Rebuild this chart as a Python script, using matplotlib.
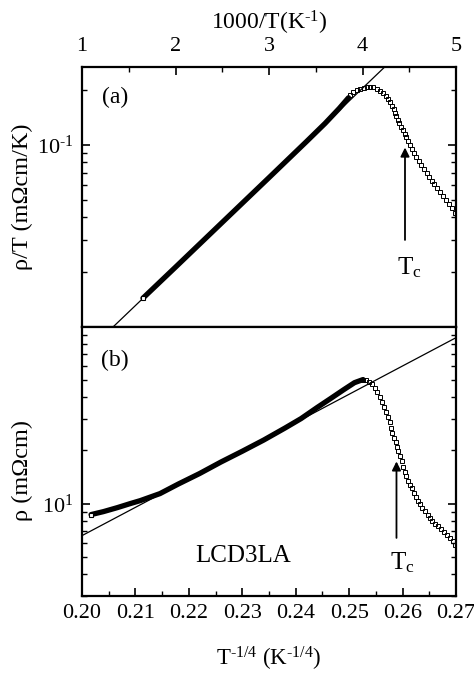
import matplotlib
matplotlib.use("Agg")
import matplotlib.pyplot as plt
from matplotlib.ticker import FixedLocator, LogLocator, MultipleLocator, NullFormatter, FixedFormatter

plt.rcParams['font.family'] = ['Liberation Serif', 'DejaVu Serif']
plt.rcParams['mathtext.fontset'] = 'custom'
plt.rcParams['mathtext.rm'] = 'Liberation Serif'
plt.rcParams['mathtext.it'] = 'Liberation Serif:italic'

HY = '\u2010'  # short hyphen for the exponents, as in the original

# panel (a): rho/T against 1000/T (top axis)
a_dense_u = [1.652, 2.0, 2.5, 3.0, 3.4, 3.6, 3.75, 3.85]
a_dense_v = [0.0144, 0.0213, 0.0375, 0.0660, 0.104, 0.131, 0.158, 0.181]
a_pts_u = [3.8663, 3.9037, 3.9412, 3.9786, 4.0107, 4.0428, 4.0802, 4.1176, 4.1551, 4.1872,
           4.2193, 4.2460, 4.2727, 4.2941, 4.3155, 4.3316, 4.3476, 4.3636, 4.3797, 4.3957,
           4.4118, 4.4332, 4.4492, 4.4652, 4.4866, 4.5080, 4.5294, 4.5508, 4.5775, 4.6043,
           4.6310, 4.6578, 4.6845, 4.7112, 4.7380, 4.7647, 4.7968, 4.8289, 4.8610, 4.8930,
           4.9251, 4.9572, 4.9893]
a_pts_v = [0.1880, 0.1941, 0.1991, 0.2029, 0.2055, 0.2073, 0.2081, 0.2067, 0.2029, 0.1978,
           0.1916, 0.1845, 0.1777, 0.1710, 0.1636, 0.1565, 0.1497, 0.1432, 0.1371, 0.1312,
           0.1255, 0.1201, 0.1149, 0.1099, 0.1045, 0.0994, 0.0945, 0.0898, 0.0854, 0.0812,
           0.0772, 0.0734, 0.0698, 0.0663, 0.0635, 0.0607, 0.0577, 0.0549, 0.0522, 0.0496,
           0.0472, 0.0448, 0.0424]
a_fit_u = [1.3316, 4.2406]
a_fit_v = [0.01, 0.268]

# panel (b): rho against T^-1/4
b_dense_x = [0.2017, 0.2040, 0.2066, 0.2090, 0.2109, 0.2146, 0.2180, 0.2220, 0.2260, 0.2300,
             0.2340, 0.2380, 0.2410, 0.2440, 0.2465, 0.2490, 0.2510, 0.2526]
b_dense_r = [8.67, 9.01, 9.49, 10.0, 10.4, 11.4, 12.9, 14.8, 17.2, 19.8,
             22.9, 26.8, 30.3, 35.0, 39.3, 44.2, 48.4, 50.4]
b_pts_x = [0.2526, 0.2532, 0.2537, 0.2543, 0.2548, 0.2553, 0.2558, 0.2561, 0.2565, 0.2569,
           0.2573, 0.2576, 0.2578, 0.2581, 0.2584, 0.2587, 0.2590, 0.2592, 0.2595, 0.2598,
           0.2601, 0.2604, 0.2606, 0.2610, 0.2614, 0.2618, 0.2621, 0.2625, 0.2629, 0.2633,
           0.2637, 0.2642, 0.2647, 0.2651, 0.2656, 0.2661, 0.2666, 0.2672, 0.2678, 0.2683,
           0.2689, 0.2694, 0.2699]
b_pts_r = [50.4, 50.05, 49.1, 47.5, 45.4, 43.1, 40.4, 37.8, 35.4, 33.2,
           30.9, 28.9, 26.9, 25.2, 23.6, 22.3, 21.0, 19.8, 18.7, 17.5,
           16.2, 15.2, 14.3, 13.5, 12.8, 12.2, 11.5, 10.95, 10.4, 9.94,
           9.49, 9.07, 8.66, 8.33, 8.01, 7.70, 7.46, 7.22, 6.94, 6.63,
           6.38, 6.13, 5.86]
b_fit_x = [0.20, 0.27]
b_fit_r = [6.59, 87.0]

top_ticks = [1, 2, 3, 4, 5]
bot_ticks = [0.20, 0.21, 0.22, 0.23, 0.24, 0.25, 0.26, 0.27]
bot_labels = ['0.20', '0.21', '0.22', '0.23', '0.24', '0.25', '0.26', '0.27']

fig = plt.figure(figsize=(4.74, 6.73), dpi=100)
W, H = 474.0, 673.0
ax_a = fig.add_axes([82 / W, 1 - 327 / H, 374 / W, 260 / H])
ax_b = fig.add_axes([82 / W, 1 - 596 / H, 374 / W, 269 / H])

mk = dict(linestyle='none', marker='s', ms=2.9, mfc='none', mec='black', mew=0.7)

# --- panel (a)
ax_a.plot(a_fit_u, a_fit_v, color='black', lw=0.9)
ax_a.plot(a_dense_u, a_dense_v, color='black', lw=3.8, solid_capstyle='round')
ax_a.plot(a_pts_u, a_pts_v, **mk)
ax_a.plot(a_dense_u[:1], a_dense_v[:1], linestyle='none', marker='s', ms=3.2,
          mfc='white', mec='black', mew=0.8)
ax_a.set_yscale('log')
ax_a.set_xlim(1, 5)
ax_a.set_ylim(0.01, 0.267)
ax_a.xaxis.tick_top()
ax_a.xaxis.set_label_position('top')
ax_a.set_xticks(top_ticks)
ax_a.xaxis.set_minor_locator(MultipleLocator(0.5))
ax_a.yaxis.set_major_locator(FixedLocator([0.1]))
ax_a.yaxis.set_major_formatter(FixedFormatter([r'10$^{\mathrm{' + HY + '1}}$']))
ax_a.yaxis.set_minor_locator(LogLocator(base=10, subs=range(2, 10)))
ax_a.yaxis.set_minor_formatter(NullFormatter())
ax_a.set_xlabel(r'1000/T(K$^{\mathrm{' + HY + '1}}$)', fontsize=17)
ax_a.xaxis.set_label_coords(0.5, 1.145)
ax_a.set_ylabel('ρ/T (mΩcm/K)', fontsize=17.5)
ax_a.yaxis.set_label_coords(-0.131, 0.5)
ax_a.tick_params(axis='x', which='both', top=True, bottom=False, direction='in')
ax_a.tick_params(axis='x', which='major', pad=8)
ax_a.tick_params(axis='y', which='both', left=True, right=True, direction='in')
ax_a.text(0.088, 0.881, '(a)', transform=ax_a.transAxes, fontsize=17, ha='center', va='center')
ax_a.annotate('', xy=(4.4545, 0.1), xytext=(4.4545, 0.029),
              arrowprops=dict(arrowstyle='-|>', color='black', lw=1.3, mutation_scale=13))
ax_a.text(0.876, 0.227, r'T$_{\mathrm{c}}$', transform=ax_a.transAxes, fontsize=18,
          ha='center', va='center')

# --- panel (b)
ax_b.plot(b_fit_x, b_fit_r, color='black', lw=0.9)
ax_b.plot(b_dense_x, b_dense_r, color='black', lw=3.8, solid_capstyle='round')
ax_b.plot(b_pts_x, b_pts_r, **mk)
ax_b.plot(b_dense_x[:1], b_dense_r[:1], linestyle='none', marker='s', ms=3.2,
          mfc='white', mec='black', mew=0.8)
ax_b.set_yscale('log')
ax_b.set_xlim(0.20, 0.27)
ax_b.set_ylim(3, 100)
ax_b.set_xticks(bot_ticks)
ax_b.set_xticklabels(bot_labels)
ax_b.xaxis.set_minor_locator(MultipleLocator(0.005))
ax_b.yaxis.set_major_locator(FixedLocator([10]))
ax_b.yaxis.set_major_formatter(FixedFormatter([r'10$^{\mathrm{1}}$']))
ax_b.yaxis.set_minor_locator(LogLocator(base=10, subs=range(2, 10)))
ax_b.yaxis.set_minor_formatter(NullFormatter())
ax_b.set_xlabel(r'T$^{\mathrm{' + HY + '1/4}}$ (K$^{\mathrm{' + HY + '1/4}}$)', fontsize=16.5)
ax_b.xaxis.set_label_coords(0.5, -0.18)
ax_b.set_ylabel('ρ (mΩcm)', fontsize=17.5)
ax_b.yaxis.set_label_coords(-0.131, 0.465)
ax_b.tick_params(axis='x', which='both', top=False, bottom=True, direction='in')
ax_b.tick_params(axis='x', which='major', pad=6)
ax_b.tick_params(axis='y', which='both', left=True, right=True, direction='in')
ax_b.text(0.088, 0.874, '(b)', transform=ax_b.transAxes, fontsize=17, ha='center', va='center')
ax_b.text(0.43, 0.149, 'LCD3LA', transform=ax_b.transAxes, fontsize=18, ha='center', va='center')
ax_b.annotate('', xy=(0.25886, 17.98), xytext=(0.25886, 6.17),
              arrowprops=dict(arrowstyle='-|>', color='black', lw=1.3, mutation_scale=13))
ax_b.text(0.857, 0.123, r'T$_{\mathrm{c}}$', transform=ax_b.transAxes, fontsize=18,
          ha='center', va='center')

for ax in (ax_a, ax_b):
    for s in ax.spines.values():
        s.set_linewidth(1.6)
    ax.tick_params(which='major', length=6, width=1.2, labelsize=16)
    ax.tick_params(which='minor', length=3.5, width=1.0)
    ax.tick_params(axis='y', which='major', pad=6)

fig.savefig('out.png', dpi=100)
